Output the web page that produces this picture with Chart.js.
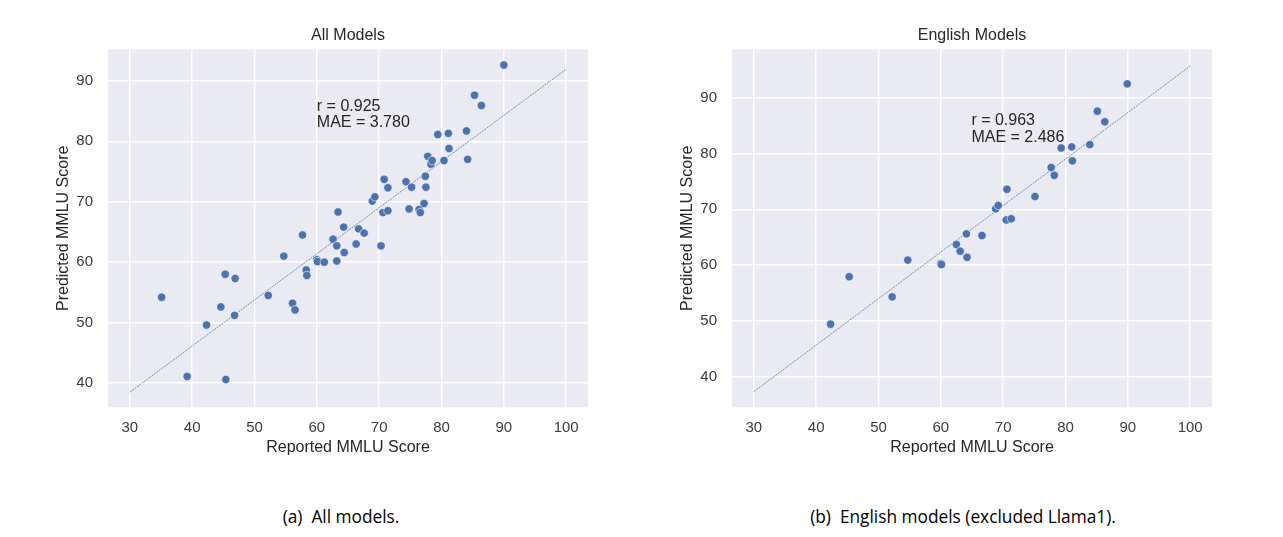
<!DOCTYPE html>
<html>
<head>
<meta charset="utf-8">
<script src="https://cdn.jsdelivr.net/npm/chart.js@4.4.1/dist/chart.umd.min.js"></script>
<style>
  body { margin: 0; background: #fff; }
  .wrap { position: relative; width: 1283px; height: 537px; }
  canvas { position: absolute; top: 0; }
  .caption {
    position: absolute; top: 505px; width: 500px; text-align: center;
    font-family: "Open Sans", sans-serif; font-size: 17.3px; color: #000; white-space: pre;
  }
</style>
</head>
<body>
<div class="wrap">
  <canvas id="allChart" width="640" height="470" style="left:0"></canvas>
  <canvas id="engChart" width="640" height="470" style="left:624px"></canvas>
  <div class="caption" style="left:91px">(a)  All models.</div>
  <div class="caption" style="left:713px">(b)  English models (excluded Llama1).</div>
</div>
<script>
// reported vs predicted MMLU, all models
const allReported = [35.1, 39.2, 45.4, 42.3, 44.6, 46.8, 45.3, 46.9, 52.2, 54.7, 57.7, 56.1, 56.5, 58.3, 58.4,
  60.0, 60.1, 61.2, 62.6, 63.2, 64.3, 63.2, 64.4, 63.4, 66.7, 67.6, 66.3, 70.3, 68.9, 69.3, 70.8, 71.4,
  70.6, 71.4, 74.3, 75.2, 74.8, 76.4, 76.6, 77.2, 77.4, 77.5, 77.8, 78.3, 78.5, 79.4, 80.4, 81.1, 81.2,
  84.0, 84.2, 85.3, 86.4, 90.0]
const allPredicted = [54.2, 41.1, 40.6, 49.6, 52.6, 51.2, 58.0, 57.3, 54.5, 61.0, 64.5, 53.2, 52.1, 58.7, 57.8,
  60.4, 60.1, 60.0, 63.8, 62.7, 65.8, 60.2, 61.6, 68.3, 65.5, 64.8, 63.0, 62.7, 70.1, 70.8, 73.7, 72.3,
  68.2, 68.5, 73.3, 72.4, 68.8, 68.7, 68.2, 69.7, 74.2, 72.4, 77.5, 76.2, 76.8, 81.1, 76.8, 81.3, 78.8,
  81.7, 77.0, 87.6, 85.9, 92.6]

// english models only
const engReported = [42.3, 45.3, 52.2, 54.7, 60.0, 60.1, 62.5, 63.1, 64.1, 64.2, 66.6, 68.8, 69.2, 70.5, 71.3,
  70.6, 75.1, 77.7, 78.2, 79.3, 81.0, 81.1, 83.9, 85.1, 86.3, 89.9]
const engPredicted = [49.4, 57.9, 54.3, 60.9, 60.3, 60.1, 63.7, 62.5, 65.6, 61.4, 65.3, 70.1, 70.7, 68.1, 68.3,
  73.6, 72.3, 77.5, 76.1, 81.0, 81.2, 78.7, 81.6, 87.6, 85.7, 92.5]

// fitted lines (end points)
const fitX = [30, 100]
const allFitY = [38.5, 91.9]
const engFitY = [37.3, 95.7]

const xTicks = [30, 40, 50, 60, 70, 80, 90, 100]
const yTicks = [40, 50, 60, 70, 80, 90]

const allStats = ['r = 0.925', 'MAE = 3.780']
const engStats = ['r = 0.963', 'MAE = 2.486']

const FONT = "'Liberation Sans', Arial, sans-serif"
const BLUE = '#4C72B0'

const plotBackground = {
  id: 'plotBackground',
  beforeDraw(chart) {
    const {ctx, chartArea: a} = chart
    ctx.save()
    ctx.fillStyle = '#EAEAF2'
    ctx.fillRect(a.left, a.top, a.right - a.left, a.bottom - a.top)
    ctx.restore()
  }
}

const statsText = {
  id: 'statsText',
  afterDatasetsDraw(chart, args, opts) {
    const {ctx, scales} = chart
    const x = scales.x.getPixelForValue(opts.at[0])
    const y = scales.y.getPixelForValue(opts.at[1])
    ctx.save()
    ctx.font = '16px ' + FONT
    ctx.fillStyle = '#262626'
    ctx.textAlign = 'left'
    ctx.textBaseline = 'middle'
    opts.lines.forEach((t, i) => ctx.fillText(t, x, y + i * 16.5))
    ctx.restore()
  }
}

function makeChart(canvas, title, xs, ys, fitY, range, stats, statsAt) {
  const points = xs.map((v, i) => ({x: v, y: ys[i]}))
  const fit = fitX.map((v, i) => ({x: v, y: fitY[i]}))
  return new Chart(canvas, {
    type: 'scatter',
    data: {
      datasets: [{
        data: points,
        pointRadius: 4.2,
        pointBackgroundColor: BLUE,
        pointBorderColor: '#ffffff',
        pointBorderWidth: 0.6
      }, {
        type: 'line',
        data: fit,
        borderColor: 'rgba(76,114,176,0.8)',
        borderWidth: 1,
        borderDash: [2, 1],
        pointRadius: 0
      }]
    },
    options: {
      responsive: false,
      animation: false,
      devicePixelRatio: 1,
      layout: {padding: {left: 54.4, top: 0, right: 52, bottom: 13.1}},
      plugins: {
        legend: {display: false},
        tooltip: {enabled: false},
        title: {
          display: true, text: title, fullSize: false, color: '#262626',
          font: {family: FONT, size: 16, weight: 'normal'},
          padding: {top: 26.4, bottom: 3.7}
        },
        statsText: {at: statsAt, lines: stats}
      },
      scales: {
        x: {
          type: 'linear', min: range[0], max: range[1],
          afterBuildTicks(s) { s.ticks = xTicks.map(v => ({value: v})) },
          afterFit(s) { s.height = 49.6 },
          grid: {color: '#ffffff', lineWidth: 1.4, drawTicks: false},
          border: {display: false},
          ticks: {padding: 11.5, color: '#3a3a3a', font: {family: FONT, size: 15}},
          title: {display: true, text: 'Reported MMLU Score', color: '#262626', padding: 0,
            font: {family: FONT, size: 16}}
        },
        y: {
          type: 'linear', min: range[2], max: range[3],
          afterBuildTicks(s) { s.ticks = yTicks.map(v => ({value: v})) },
          afterFit(s) { s.width = 53.6 },
          grid: {color: '#ffffff', lineWidth: 1.4, drawTicks: false},
          border: {display: false},
          ticks: {padding: 15, color: '#3a3a3a', font: {family: FONT, size: 15}},
          title: {display: true, text: 'Predicted MMLU Score', color: '#262626', padding: 0,
            font: {family: FONT, size: 16}}
        }
      }
    },
    plugins: [plotBackground, statsText]
  })
}

makeChart(document.getElementById('allChart'), 'All Models', allReported, allPredicted, allFitY,
  [26.5, 103.5, 36.0, 95.2], allStats, [60.0, 85.8])
makeChart(document.getElementById('engChart'), 'English Models', engReported, engPredicted, engFitY,
  [26.5, 103.5, 34.5, 98.7], engStats, [64.9, 85.9])
</script>
</body>
</html>
